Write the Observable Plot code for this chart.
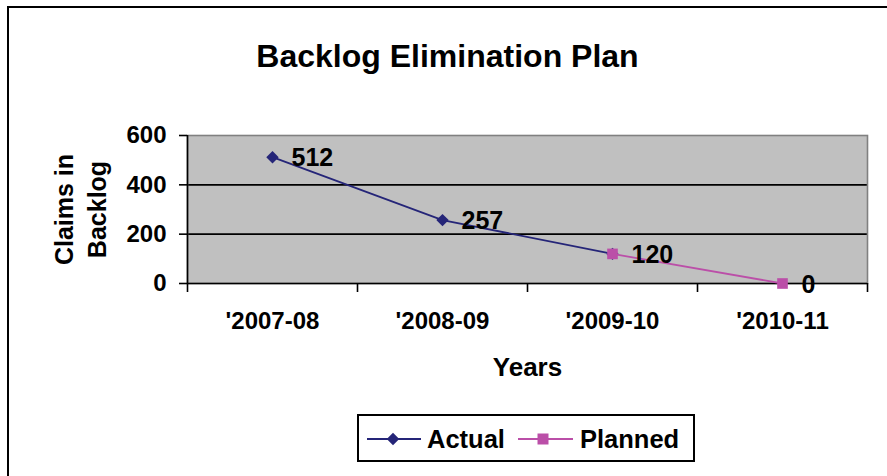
<!DOCTYPE html>
<html><head><meta charset="utf-8">
<script src="https://cdn.jsdelivr.net/npm/d3@7"></script>
<script src="https://cdn.jsdelivr.net/npm/@observablehq/plot@0.6"></script>
<style>
html,body{margin:0;padding:0;background:#fff;}
body{width:887px;height:476px;position:relative;overflow:hidden;font-family:"Liberation Sans",Arial,sans-serif;font-weight:bold;}
#border{position:absolute;left:7px;top:6px;width:900px;height:500px;border-left:2px solid #000;border-top:2px solid #000;}
#title{position:absolute;left:0;top:40px;width:895px;text-align:center;font-size:32px;line-height:32px;white-space:nowrap;color:#000;}
#chart{position:absolute;left:0;top:100px;}
#legend{position:absolute;left:357px;top:414px;}
</style></head><body>
<div id="border"></div>
<div id="title"></div>
<div id="chart"></div>
<div id="legend"></div>
<script>
const years = ["'2007-08", "'2008-09", "'2009-10", "'2010-11"];
const actual = [512, 257, 120, null];
const planned = [null, null, 120, 0];
const yTicks = [0, 200, 400, 600];
const gridValues = [200, 400];
const seriesNames = ["Actual", "Planned"];
const seriesColors = ["#252578", "#bb4fa8"];
const chartTitle = "Backlog Elimination Plan";
const xTitle = "Years";
const yTitle = "Claims in\nBacklog";

document.getElementById("title").textContent = chartTitle;

const actualRows = [];
const plannedRows = [];
years.forEach((year, i) => {
  if (actual[i] != null) actualRows.push({pos: i + 0.5, year, value: actual[i]});
  if (planned[i] != null) plannedRows.push({pos: i + 0.5, year, value: planned[i]});
});
const labelRows = years.map((year, i) => {
  const v = actual[i] != null ? actual[i] : planned[i];
  return {pos: i + 0.5, year, value: v};
}).filter(d => d.value != null);

const axisColor = "#000";
const plot = Plot.plot({
  width: 887,
  height: 300,
  marginLeft: 187,
  marginRight: 20,
  marginTop: 35,
  marginBottom: 117,
  style: {fontFamily: '"Liberation Sans", Arial, sans-serif', fontWeight: "bold", background: "transparent", color: "#000"},
  x: {domain: [0, years.length], label: null, axis: null},
  y: {domain: [0, 600], label: null, axis: null},
  marks: [
    Plot.frame({fill: "#c0c0c0", stroke: null}),
    Plot.ruleY(gridValues, {stroke: "#000", strokeWidth: 1.6}),
    Plot.frame({stroke: "#808080", strokeWidth: 1.6, fill: null}),
    Plot.axisY({ticks: yTicks, tickSize: 8, tickPadding: 13, fontSize: 24, strokeWidth: 1.6, label: null, tickFormat: d => String(d)}),
    Plot.axisX({ticks: d3.range(years.length + 1), tickSize: 9, tickFormat: () => "", strokeWidth: 1.6, label: null}),
    Plot.axisX({ticks: years.map((d, i) => i + 0.5), tickSize: 0, tickPadding: 28, fontSize: 24, tickFormat: v => years[Math.floor(v)], label: null}),
    Plot.ruleX([0], {stroke: axisColor, strokeWidth: 1.6}),
    Plot.ruleY([0], {stroke: axisColor, strokeWidth: 1.6}),
    Plot.line(actualRows, {x: "pos", y: "value", stroke: seriesColors[0], strokeWidth: 1.8}),
    Plot.dot(actualRows, {x: "pos", y: "value", symbol: "diamond2", r: 5.6, fill: seriesColors[0], stroke: null}),
    Plot.line(plannedRows, {x: "pos", y: "value", stroke: seriesColors[1], strokeWidth: 1.8}),
    Plot.dot(plannedRows, {x: "pos", y: "value", symbol: "square", r: 6, fill: seriesColors[1], stroke: null}),
    Plot.text(labelRows, {x: "pos", y: "value", text: d => String(d.value), dx: 19, dy: 1, textAnchor: "start", lineAnchor: "middle", fontSize: 25, fill: "#000", fontWeight: "bold"}),
    Plot.text([yTitle], {text: d => d, frameAnchor: "left", rotate: -90, dx: -108.5, fontSize: 25, lineHeight: 1.32, textAnchor: "middle", lineAnchor: "middle", fill: "#000", fontWeight: "bold"}),
    Plot.text([xTitle], {text: d => d, frameAnchor: "bottom", dy: 84, fontSize: 26, textAnchor: "middle", lineAnchor: "middle", fill: "#000", fontWeight: "bold"})
  ]
});
document.getElementById("chart").appendChild(plot);

// legend
const lg = d3.select("#legend").append("svg").attr("width", 338).attr("height", 48)
  .style("font-family", '"Liberation Sans", Arial, sans-serif').style("font-weight", "bold");
lg.append("rect").attr("x", 1).attr("y", 1).attr("width", 336).attr("height", 46)
  .attr("fill", "#fff").attr("stroke", "#000").attr("stroke-width", 2);
const items = [
  {name: seriesNames[0], color: seriesColors[0], sym: d3.symbol(d3.symbolDiamond2, 100), x1: 10, x2: 64, cx: 36, tx: 70},
  {name: seriesNames[1], color: seriesColors[1], sym: d3.symbol(d3.symbolSquare, 121), x1: 161, x2: 216, cx: 186, tx: 223}
];
items.forEach(it => {
  lg.append("line").attr("x1", it.x1).attr("x2", it.x2).attr("y1", 25).attr("y2", 25)
    .attr("stroke", it.color).attr("stroke-width", 1.8);
  lg.append("path").attr("d", it.sym()).attr("transform", `translate(${it.cx},25)`).attr("fill", it.color);
  lg.append("text").attr("x", it.tx).attr("y", 33.5).attr("font-size", 25.5).attr("fill", "#000").text(it.name);
});
</script>
</body></html>
